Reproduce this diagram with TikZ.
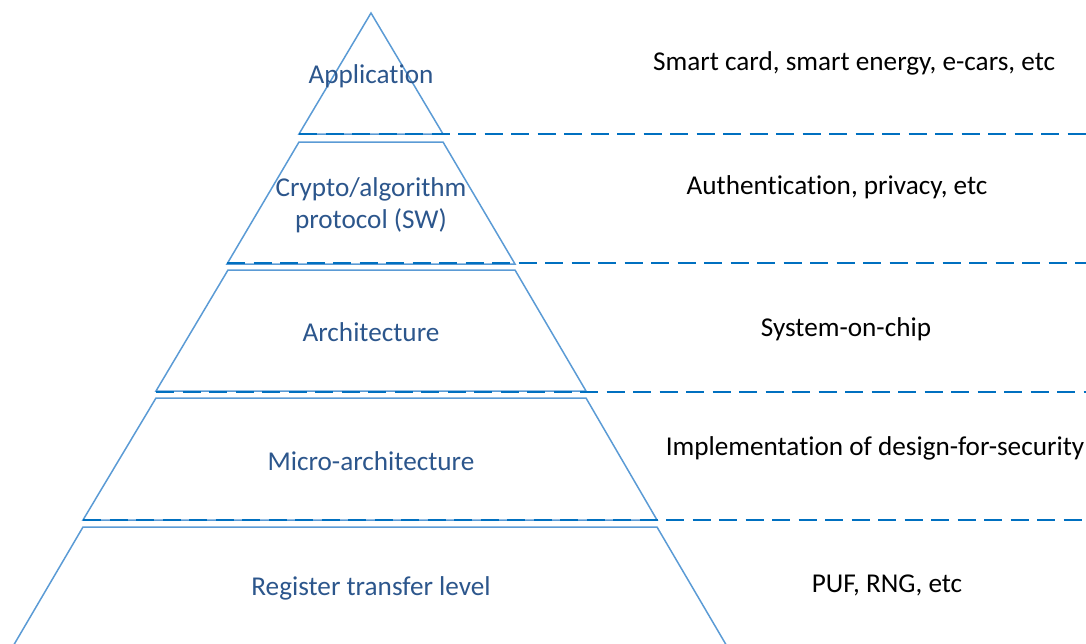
\documentclass[tikz,border=0pt]{standalone}
\usepackage{fontspec}
\setmainfont{Carlito}[Ligatures=NoCommon]
\definecolor{outl}{RGB}{91,155,213}
\definecolor{dash}{RGB}{0,112,192}
\definecolor{lbl}{RGB}{44,86,140}
\tikzset{
  layer/.style={draw=outl, line width=1.5pt, line join=miter},
  sep/.style={draw=dash, line width=2.3pt, dash pattern=on 18pt off 8.5pt},
  lname/.style={text=lbl, font=\fontsize{27.2}{32.5}\selectfont, align=center, inner sep=0pt},
  ldesc/.style={text=black, font=\fontsize{27.2}{32.5}\selectfont, inner sep=0pt}
}
\begin{document}
\begin{tikzpicture}[x=1pt,y=-1pt]
\useasboundingbox (0,0) rectangle (1086,643);
% layers
\draw[layer] (371,13) -- (443,134) -- (299,134) -- cycle;
\draw[layer] (299,142) -- (443,142) -- (515,264) -- (227,264) -- cycle;
\draw[layer] (228,270) -- (515,270) -- (586,391) -- (156,391) -- cycle;
\draw[layer] (156,398) -- (586,398) -- (657,520) -- (83,520) -- cycle;
\draw[layer] (83,527) -- (657,527) -- (728,648) -- (12,648) -- cycle;
% separators
\coordinate (s1) at (299,134); \coordinate (e1) at (1090,134);
\coordinate (s2) at (227,263); \coordinate (e2) at (1090,263);
\coordinate (s3) at (156,392); \coordinate (e3) at (1090,392);
\coordinate (s4) at (83,520);  \coordinate (e4) at (1090,520);
\draw[sep] (s1) -- (e1);
\draw[sep] (s2) -- (e2);
\draw[sep] (s3) -- (e3);
\draw[sep] (s4) -- (e4);
% layer names
\node[lname] (app) at (371,76) {Application};
\node[lname] (cry) at (371,205) {Crypto/algorithm\\protocol (SW)};
\node[lname] (arc) at (371,332) {Architecture};
\node[lname] (mic) at (371,461) {Micro-architecture};
\node[lname] (rtl) at (371,588) {Register transfer level};
% descriptions
\node[ldesc] (d1) at (854,63) {Smart card, smart energy, e-cars, etc};
\node[ldesc] (d2) at (837,187) {Authentication, privacy, etc};
\node[ldesc] (d3) at (846,329) {System-on-chip};
\node[ldesc] (d4) at (875,448) {Implementation of design-for-security};
\node[ldesc] (d5) at (887,585) {PUF, RNG, etc};
\end{tikzpicture}
\end{document}
